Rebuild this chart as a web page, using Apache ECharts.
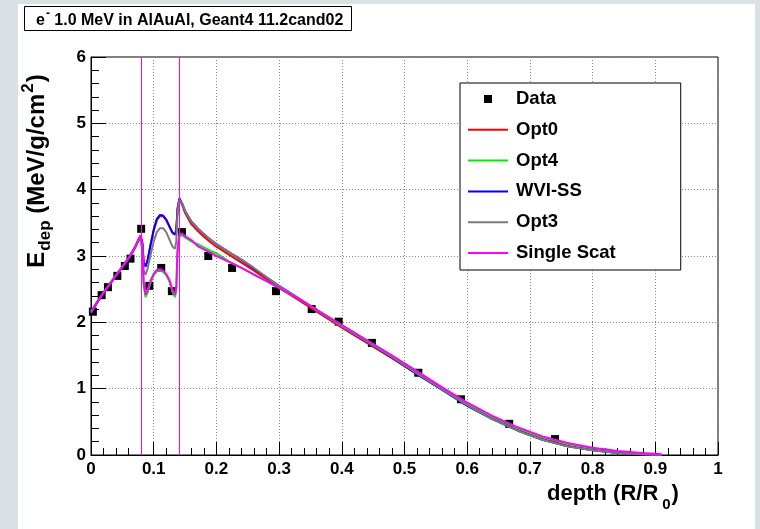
<!DOCTYPE html>
<html>
<head>
<meta charset="utf-8">
<title>Edep vs depth</title>
<script src="https://cdn.jsdelivr.net/npm/echarts@6/dist/echarts.min.js"></script>
<style>
  html, body { margin: 0; padding: 0; background: #d9e1e4; }
  #chart { width: 760px; height: 529px; }
</style>
</head>
<body>
<div id="chart"></div>
<script>
// Measured energy deposition (black squares)
const dataDepth = [0.003, 0.017, 0.027, 0.042, 0.054, 0.063, 0.080, 0.093, 0.112, 0.129, 0.145,
                   0.187, 0.225, 0.295, 0.352, 0.395, 0.448, 0.522, 0.590, 0.667, 0.740];
const dataEdep  = [2.16, 2.41, 2.53, 2.70, 2.85, 2.96, 3.41, 2.55, 2.82, 2.47, 3.36,
                   3.00, 2.82, 2.47, 2.20, 2.01, 1.69, 1.24, 0.84, 0.47, 0.24];

// Depth sampling of the simulated curves (R/R0)
const simDepth = [
  0, 0.005, 0.01, 0.02, 0.03, 0.04, 0.05, 0.06, 0.07, 0.075, 0.079, 0.082,
  0.084, 0.087, 0.09, 0.095, 0.1, 0.105, 0.11, 0.115, 0.12, 0.125, 0.13, 0.134, 0.136,
  0.138, 0.141, 0.145, 0.15, 0.16, 0.17, 0.18, 0.19, 0.2, 0.22, 0.24, 0.26, 0.28, 0.3,
  0.33, 0.36, 0.4, 0.44, 0.48, 0.52, 0.56, 0.6, 0.64, 0.68, 0.72, 0.76, 0.8, 0.84, 0.88, 0.91
];

// Geant4 physics lists, Edep (MeV/g/cm2)
const opt0 = [
  2.15, 2.23, 2.31, 2.45, 2.58, 2.71, 2.84, 2.97, 3.13, 3.23, 3.31, 3.18,
  2.90, 2.85, 2.93, 3.16, 3.38, 3.54, 3.60, 3.60, 3.54, 3.44, 3.35, 3.33, 3.40,
  3.72, 3.86, 3.78, 3.65, 3.48, 3.38, 3.29, 3.21, 3.14, 3.02, 2.90, 2.78, 2.65, 2.52,
  2.34, 2.16, 1.92, 1.69, 1.46, 1.22, 0.99, 0.75, 0.55, 0.38, 0.24, 0.14, 0.075, 0.035, 0.012, 0.0
];
const opt4 = [
  2.15, 2.22, 2.30, 2.44, 2.57, 2.70, 2.83, 2.96, 3.12, 3.22, 3.28, 3.05,
  2.55, 2.38, 2.44, 2.60, 2.71, 2.77, 2.78, 2.76, 2.71, 2.62, 2.46, 2.38, 2.48,
  3.05, 3.30, 3.32, 3.28, 3.22, 3.18, 3.13, 3.08, 3.04, 2.92, 2.82, 2.72, 2.62, 2.52,
  2.36, 2.19, 1.96, 1.73, 1.50, 1.26, 1.01, 0.78, 0.58, 0.41, 0.27, 0.17, 0.10, 0.05, 0.02, 0.005
];
const wviSS = [
  2.15, 2.22, 2.30, 2.44, 2.57, 2.70, 2.83, 2.96, 3.12, 3.22, 3.30, 3.20,
  2.90, 2.84, 2.92, 3.17, 3.40, 3.56, 3.62, 3.61, 3.55, 3.45, 3.35, 3.32, 3.38,
  3.70, 3.87, 3.80, 3.68, 3.52, 3.42, 3.33, 3.25, 3.18, 3.06, 2.94, 2.81, 2.68, 2.55,
  2.37, 2.18, 1.94, 1.70, 1.47, 1.22, 0.98, 0.74, 0.54, 0.37, 0.23, 0.13, 0.07, 0.03, 0.01, 0.0
];
const opt3 = [
  2.15, 2.23, 2.31, 2.45, 2.58, 2.71, 2.84, 2.97, 3.13, 3.23, 3.30, 3.15,
  2.78, 2.72, 2.80, 3.02, 3.22, 3.36, 3.42, 3.42, 3.36, 3.25, 3.14, 3.11, 3.22,
  3.66, 3.85, 3.80, 3.68, 3.52, 3.42, 3.33, 3.25, 3.18, 3.06, 2.95, 2.82, 2.68, 2.55,
  2.37, 2.18, 1.94, 1.71, 1.48, 1.23, 0.99, 0.75, 0.54, 0.37, 0.23, 0.13, 0.07, 0.03, 0.01, 0.0
];
const singleScat = [
  2.17, 2.24, 2.31, 2.45, 2.58, 2.71, 2.84, 2.97, 3.13, 3.24, 3.31, 3.08,
  2.60, 2.42, 2.48, 2.63, 2.73, 2.79, 2.80, 2.78, 2.73, 2.64, 2.49, 2.42, 2.52,
  3.10, 3.33, 3.34, 3.30, 3.24, 3.15, 3.10, 3.05, 3.00, 2.91, 2.82, 2.72, 2.62, 2.52,
  2.36, 2.19, 1.96, 1.73, 1.50, 1.26, 1.02, 0.79, 0.59, 0.42, 0.28, 0.18, 0.11, 0.06, 0.03, 0.01
];

// Al | Au | Al layer boundaries
const layerEdges = [0.083, 0.137];

const FONT = 'Liberation Sans';
const EDGE_COLOR = '#ff00ff';
const pairs = (xs, ys) => xs.slice(0, ys.length).map((x, i) => [x, ys[i]]);

// Legend glyphs: a short horizontal bar for curves, a small square for data
const LINE_ICON = 'path://M0,0L40,0L40,2L0,2Z';
const SQUARE_ICON = 'path://M0,0L8,0L8,8L0,8Z';

const curveDefs = [
  { name: 'Opt0', values: opt0, color: '#ff0000' },
  { name: 'Opt4', values: opt4, color: '#00ee00' },
  { name: 'WVI-SS', values: wviSS, color: '#0000ff' },
  { name: 'Opt3', values: opt3, color: '#7a7a7a' },
  { name: 'Single Scat', values: singleScat, color: '#ff00ff' }
];

const curveSeries = curveDefs.map(s => ({
  name: s.name,
  type: 'line',
  data: pairs(simDepth, s.values),
  showSymbol: false,
  symbol: 'none',
  color: s.color,
  itemStyle: { color: s.color },
  lineStyle: { color: s.color, width: 2 },
  silent: true
}));

// Layer boundaries drawn as vertical marker lines on the last curve
curveSeries[curveSeries.length - 1].markLine = {
  silent: true,
  symbol: ['none', 'none'],
  label: { show: false },
  lineStyle: { color: EDGE_COLOR, width: 1, type: 'solid', opacity: 1 },
  data: layerEdges.map(x => ({ xAxis: x, lineStyle: { color: EDGE_COLOR, width: 1, type: 'solid' } }))
};

const chart = echarts.init(document.getElementById('chart'), null, { renderer: 'canvas' });

chart.setOption({
  animation: false,
  backgroundColor: '#d9e1e4',
  graphic: [{
    type: 'rect',
    z: -100,
    shape: { x: 18, y: 4, width: 737, height: 525 },
    style: { fill: '#ffffff' }
  }],
  title: {
    text: '{n|e}{s|-}{n| 1.0 MeV in AlAuAl, Geant4 11.2cand02}',
    left: 24,
    top: 6,
    padding: [2, 8, 2, 12],
    borderColor: '#000',
    borderWidth: 1,
    backgroundColor: '#fff',
    textStyle: {
      fontFamily: FONT,
      fontWeight: 'bold',
      rich: {
        n: { fontFamily: FONT, fontWeight: 'bold', fontSize: 16, lineHeight: 26, color: '#000' },
        s: { fontFamily: FONT, fontWeight: 'bold', fontSize: 12, padding: [0, 0, 14, 1], color: '#000' }
      }
    }
  },
  legend: {
    orient: 'vertical',
    left: 460,
    top: 83,
    padding: [6, 65, 7, 8],
    itemWidth: 40,
    itemHeight: 8,
    itemGap: 10.8,
    borderColor: '#000',
    borderWidth: 1,
    backgroundColor: '#fff',
    selectedMode: false,
    textStyle: {
      fontFamily: FONT,
      fontWeight: 'bold',
      fontSize: 18.5,
      lineHeight: 20,
      color: '#000',
      padding: [0, 0, 0, 3]
    },
    data: [{ name: 'Data', icon: SQUARE_ICON }]
      .concat(curveDefs.map(s => ({ name: s.name, icon: LINE_ICON })))
  },
  grid: {
    left: 91,
    right: 42,
    top: 57,
    bottom: 74,
    outerBoundsMode: 'none',
    containLabel: false,
    show: true,
    borderColor: '#000',
    borderWidth: 1,
    backgroundColor: '#fff'
  },
  xAxis: {
    type: 'value',
    min: 0,
    max: 1,
    interval: 0.1,
    name: '{n|depth (R/R}{sb|0}{n|)}',
    nameLocation: 'middle',
    nameGap: 15,
    nameTextStyle: {
      verticalAlign: 'top',
      padding: [0, 0, 0, 417],
      fontFamily: FONT,
      fontWeight: 'bold',
      rich: {
        n: { fontFamily: FONT, fontWeight: 'bold', fontSize: 22, lineHeight: 37, color: '#000' },
        sb: { fontFamily: FONT, fontWeight: 'bold', fontSize: 15, padding: [22, 1, 0, 4], color: '#000' }
      }
    },
    axisLine: { lineStyle: { color: '#000', width: 1 } },
    axisTick: { inside: true, length: 13, lineStyle: { color: '#000' } },
    minorTick: { show: true, splitNumber: 5, length: 7, lineStyle: { color: '#000' } },
    axisLabel: {
      color: '#000',
      fontFamily: FONT,
      fontWeight: 'bold',
      fontSize: 17,
      margin: 6,
      formatter: v => (v === 0 ? '0' : Math.abs(v - 1) < 1e-9 ? '1' : v.toFixed(1))
    },
    splitLine: { show: true, lineStyle: { color: '#888', width: 1, type: [1, 2] } }
  },
  yAxis: {
    type: 'value',
    min: 0,
    max: 6,
    interval: 1,
    name: '{n|E}{sb|dep}{n| (MeV/g/cm}{sp|2}{n|)}',
    nameLocation: 'middle',
    nameGap: 54,
    nameTextStyle: {
      verticalAlign: 'middle',
      padding: [0, 0, 0, 170],
      fontFamily: FONT,
      fontWeight: 'bold',
      rich: {
        n: { fontFamily: FONT, fontWeight: 'bold', fontSize: 24, lineHeight: 40, color: '#000' },
        sb: { fontFamily: FONT, fontWeight: 'bold', fontSize: 17, padding: [16, 0, 0, 1], color: '#000' },
        sp: { fontFamily: FONT, fontWeight: 'bold', fontSize: 17, padding: [0, 1, 18, 1], color: '#000' }
      }
    },
    axisLine: { lineStyle: { color: '#000', width: 1 } },
    axisTick: { inside: true, length: 15, lineStyle: { color: '#000' } },
    minorTick: { show: true, splitNumber: 5, length: 8, lineStyle: { color: '#000' } },
    axisLabel: {
      color: '#000',
      fontFamily: FONT,
      fontWeight: 'bold',
      fontSize: 17,
      margin: 5
    },
    splitLine: { show: true, lineStyle: { color: '#888', width: 1, type: [1, 2] } }
  },
  series: [
    {
      name: 'Data',
      type: 'scatter',
      symbol: 'rect',
      symbolSize: 8,
      color: '#000',
      itemStyle: { color: '#000', opacity: 1 },
      data: pairs(dataDepth, dataEdep),
      silent: true
    },
    ...curveSeries
  ]
});
</script>
</body>
</html>
